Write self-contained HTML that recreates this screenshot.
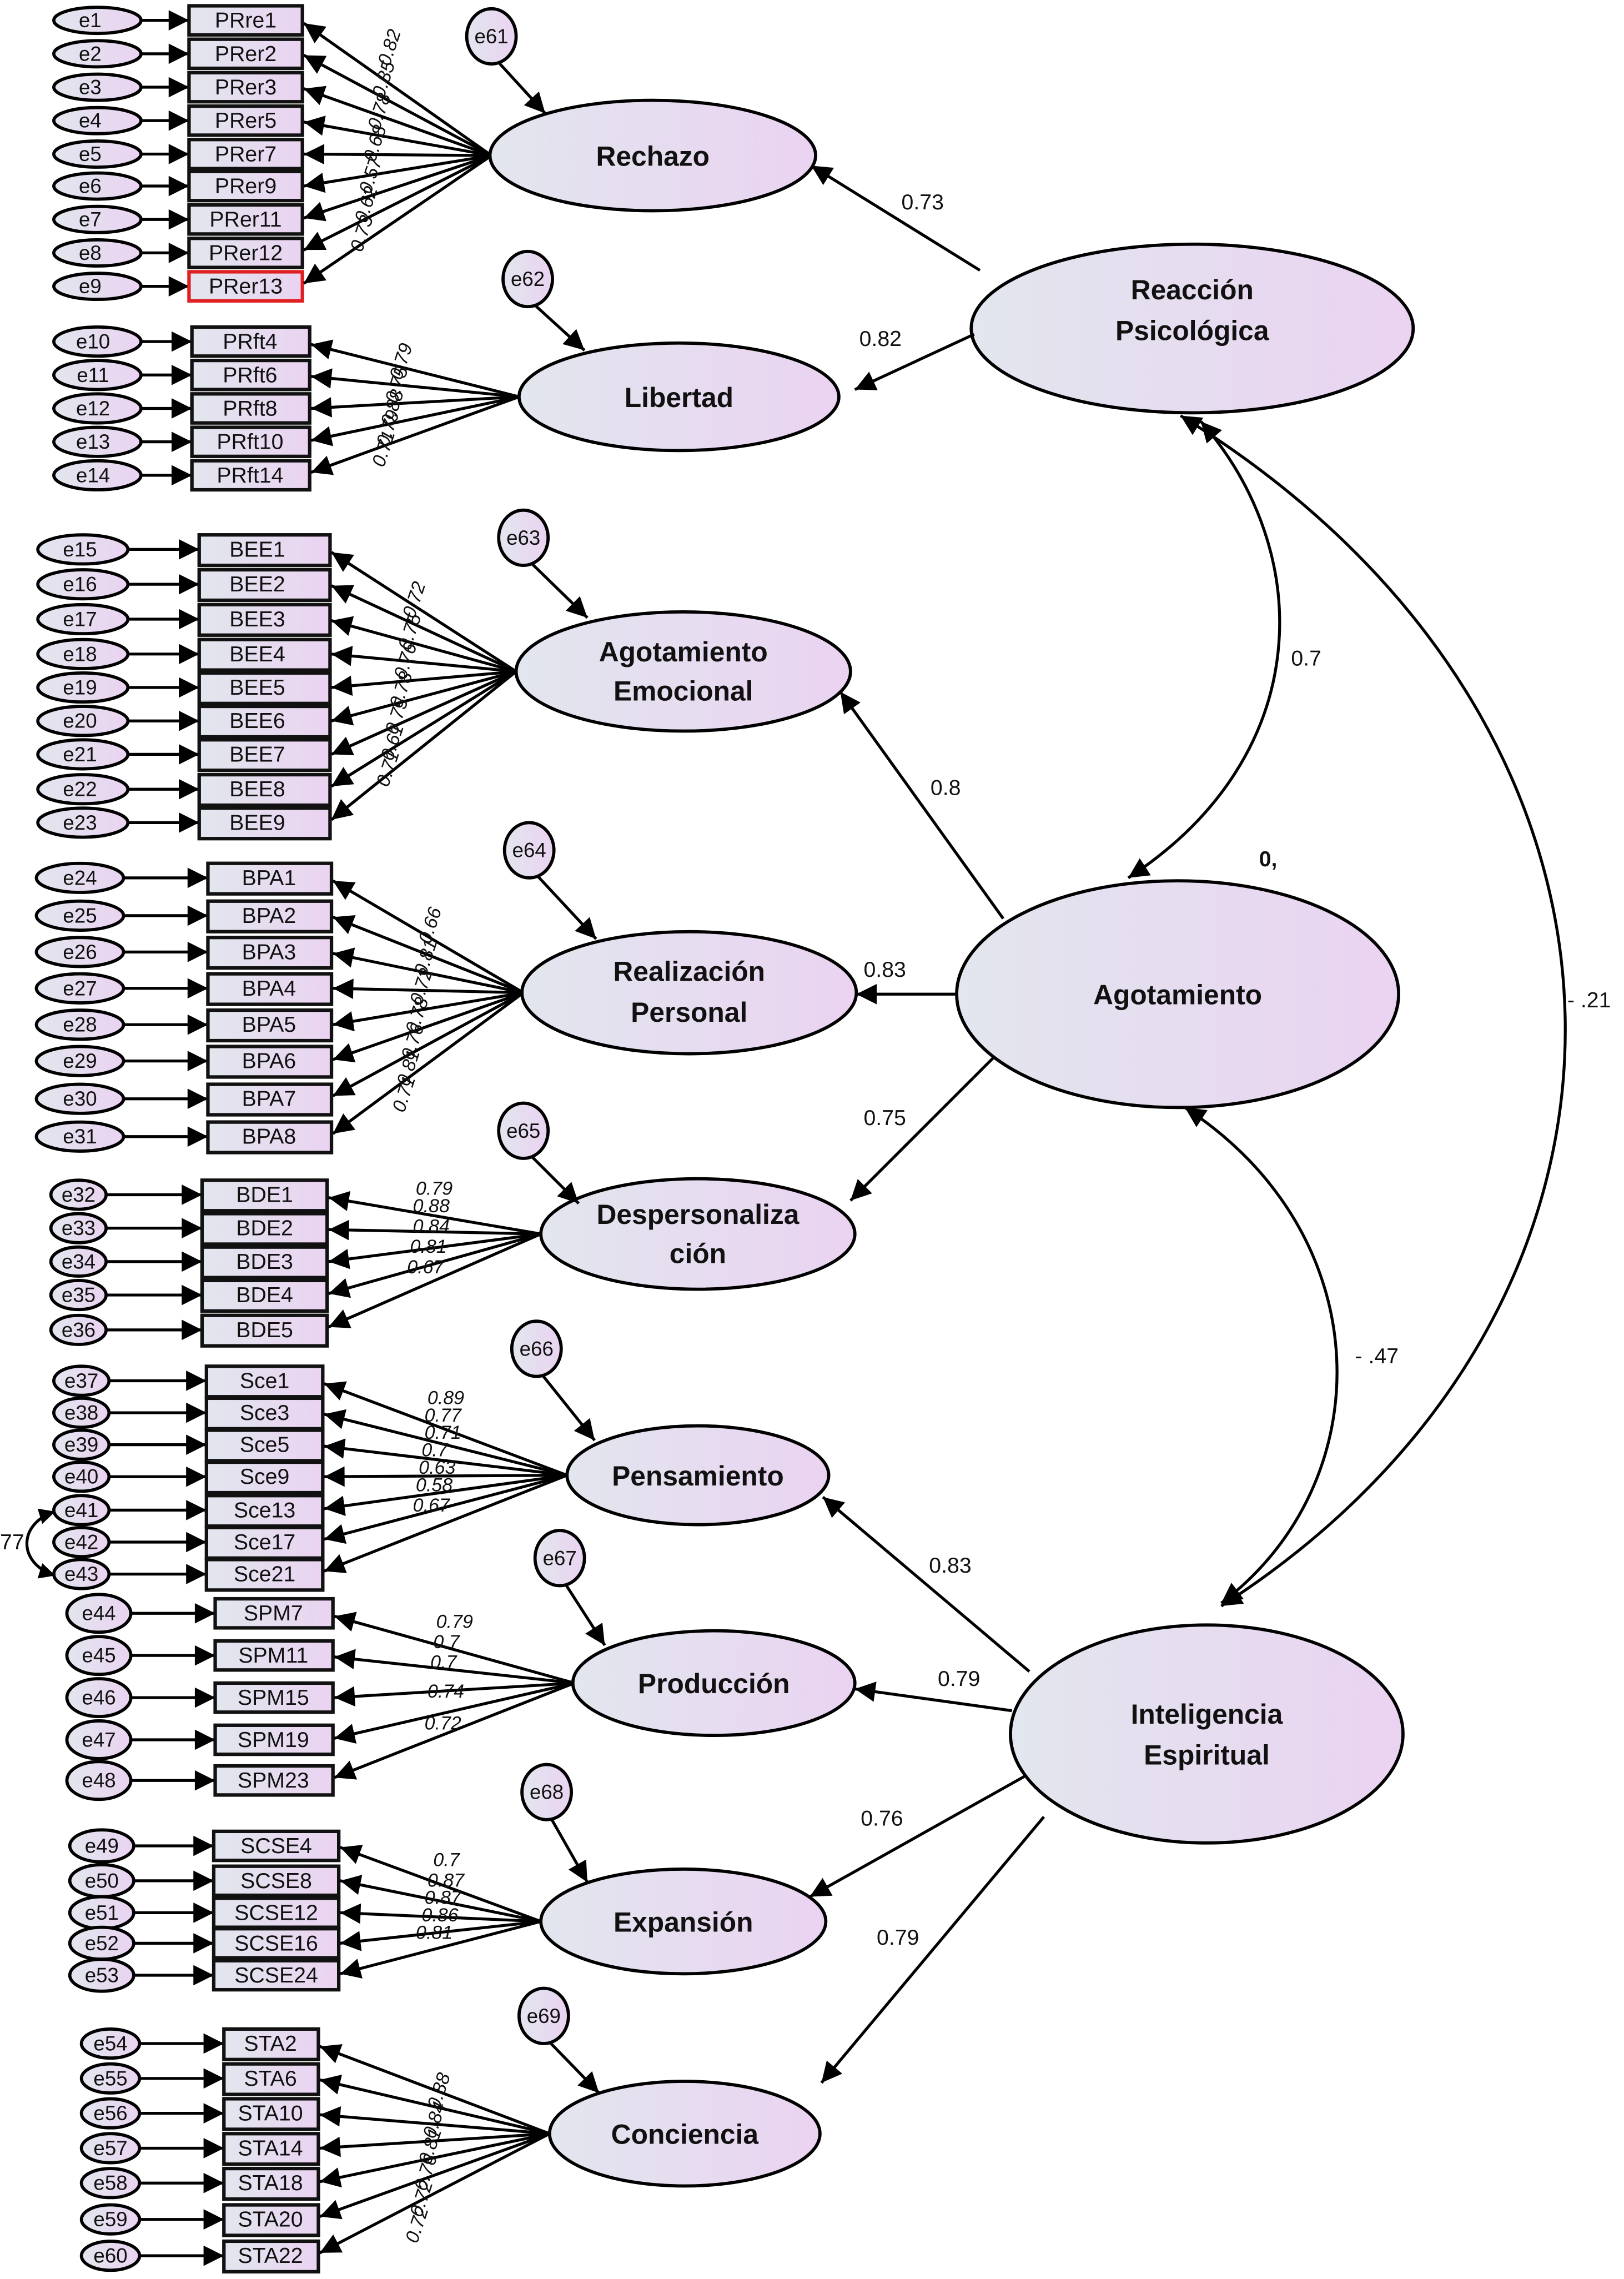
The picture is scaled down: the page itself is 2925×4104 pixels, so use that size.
<!DOCTYPE html>
<html><head><meta charset="utf-8"><style>
html,body{margin:0;padding:0;background:#fff;}
svg{display:block;}
text{font-family:"Liberation Sans",Arial,sans-serif;}
.e{fill:url(#g);stroke:#000;stroke-width:2.2;}
.b{fill:url(#g);stroke:#111;stroke-width:2.4;}
.l{stroke:#000;stroke-width:2;fill:none;}
.t{font-size:15px;text-anchor:middle;dominant-baseline:central;fill:#111;}
.et{font-size:14px;text-anchor:middle;dominant-baseline:central;fill:#111;}
.L{font-size:19px;font-weight:bold;text-anchor:middle;fill:#111;}
.n{font-size:15px;fill:#111;}
.r{font-size:13px;font-style:italic;fill:#111;}
</style></head><body>
<svg width="2925" height="4104" viewBox="0 0 1117 1568" preserveAspectRatio="none" xmlns="http://www.w3.org/2000/svg">
<defs>
<linearGradient id="g" x1="0" x2="1" y1="0" y2="0"><stop offset="0" stop-color="#e2e6ee"/><stop offset="1" stop-color="#ead3f1"/></linearGradient>
<marker id="a" viewBox="0 0 10 10" refX="10" refY="5" markerWidth="20" markerHeight="14" markerUnits="userSpaceOnUse" orient="auto-start-reverse"><path d="M0,0L10,5L0,10z" fill="#000"/></marker>
<marker id="s" viewBox="0 0 10 10" refX="10" refY="5" markerWidth="16" markerHeight="11" markerUnits="userSpaceOnUse" orient="auto-start-reverse"><path d="M0,0L10,5L0,10z" fill="#000"/></marker>
</defs>

<!-- ===== Rechazo ===== -->
<g>
<line class="l" x1="97" y1="14" x2="130" y2="14" marker-end="url(#a)"/><line class="l" x1="97" y1="37" x2="130" y2="37" marker-end="url(#a)"/><line class="l" x1="97" y1="60" x2="130" y2="60" marker-end="url(#a)"/><line class="l" x1="97" y1="83" x2="130" y2="83" marker-end="url(#a)"/><line class="l" x1="97" y1="106" x2="130" y2="106" marker-end="url(#a)"/><line class="l" x1="97" y1="128" x2="130" y2="128" marker-end="url(#a)"/><line class="l" x1="97" y1="151" x2="130" y2="151" marker-end="url(#a)"/><line class="l" x1="97" y1="174" x2="130" y2="174" marker-end="url(#a)"/><line class="l" x1="97" y1="197" x2="130" y2="197" marker-end="url(#a)"/>
<ellipse class="e" cx="67" cy="14" rx="30" ry="9"/><text class="et" x="62" y="14">e1</text>
<ellipse class="e" cx="67" cy="37" rx="30" ry="9"/><text class="et" x="62" y="37">e2</text>
<ellipse class="e" cx="67" cy="60" rx="30" ry="9"/><text class="et" x="62" y="60">e3</text>
<ellipse class="e" cx="67" cy="83" rx="30" ry="9"/><text class="et" x="62" y="83">e4</text>
<ellipse class="e" cx="67" cy="106" rx="30" ry="9"/><text class="et" x="62" y="106">e5</text>
<ellipse class="e" cx="67" cy="128" rx="30" ry="9"/><text class="et" x="62" y="128">e6</text>
<ellipse class="e" cx="67" cy="151" rx="30" ry="9"/><text class="et" x="62" y="151">e7</text>
<ellipse class="e" cx="67" cy="174" rx="30" ry="9"/><text class="et" x="62" y="174">e8</text>
<ellipse class="e" cx="67" cy="197" rx="30" ry="9"/><text class="et" x="62" y="197">e9</text>
<rect class="b" x="130" y="4" width="78" height="20"/><text class="t" x="169" y="14">PRre1</text>
<rect class="b" x="130" y="27" width="78" height="20"/><text class="t" x="169" y="37">PRer2</text>
<rect class="b" x="130" y="50" width="78" height="20"/><text class="t" x="169" y="60">PRer3</text>
<rect class="b" x="130" y="73" width="78" height="20"/><text class="t" x="169" y="83">PRer5</text>
<rect class="b" x="130" y="96" width="78" height="20"/><text class="t" x="169" y="106">PRer7</text>
<rect class="b" x="130" y="118" width="78" height="20"/><text class="t" x="169" y="128">PRer9</text>
<rect class="b" x="130" y="141" width="78" height="20"/><text class="t" x="169" y="151">PRer11</text>
<rect class="b" x="130" y="164" width="78" height="20"/><text class="t" x="169" y="174">PRer12</text>
<rect class="b" x="130" y="187" width="78" height="20" style="stroke:#e02020"/><text class="t" x="169" y="197">PRer13</text>
<line class="l" x1="338" y1="107" x2="209" y2="16" marker-end="url(#a)"/><line class="l" x1="338" y1="107" x2="209" y2="38" marker-end="url(#a)"/><line class="l" x1="338" y1="107" x2="209" y2="61" marker-end="url(#a)"/><line class="l" x1="338" y1="107" x2="209" y2="84" marker-end="url(#a)"/><line class="l" x1="338" y1="107" x2="209" y2="106" marker-end="url(#a)"/><line class="l" x1="338" y1="107" x2="209" y2="128" marker-end="url(#a)"/><line class="l" x1="338" y1="107" x2="209" y2="150" marker-end="url(#a)"/><line class="l" x1="338" y1="107" x2="209" y2="172" marker-end="url(#a)"/><line class="l" x1="338" y1="107" x2="209" y2="195" marker-end="url(#a)"/>
<text class="r" transform="translate(268,46) rotate(-72)">0.82</text>
<text class="r" transform="translate(264,68) rotate(-72)">0.85</text>
<text class="r" transform="translate(261,90) rotate(-72)">0.78</text>
<text class="r" transform="translate(258,112) rotate(-72)">0.68</text>
<text class="r" transform="translate(255,134) rotate(-72)">0.57</text>
<text class="r" transform="translate(252,154) rotate(-72)">0.62</text>
<text class="r" transform="translate(249,174) rotate(-72)">0.73</text>
<ellipse class="e" cx="449" cy="107" rx="112" ry="38"/><text class="L" x="449" y="114">Rechazo</text>
<ellipse class="e" cx="338" cy="25" rx="17" ry="19"/><text class="et" x="338" y="25">e61</text>
<line class="l" x1="343" y1="43" x2="375" y2="78" marker-end="url(#a)"/>
</g>

<!-- ===== Libertad ===== -->
<g>
<line class="l" x1="97" y1="235" x2="132" y2="235" marker-end="url(#a)"/><line class="l" x1="97" y1="258" x2="132" y2="258" marker-end="url(#a)"/><line class="l" x1="97" y1="281" x2="132" y2="281" marker-end="url(#a)"/><line class="l" x1="97" y1="304" x2="132" y2="304" marker-end="url(#a)"/><line class="l" x1="97" y1="327" x2="132" y2="327" marker-end="url(#a)"/>
<ellipse class="e" cx="67" cy="235" rx="30" ry="10"/><text class="et" x="64" y="235">e10</text>
<ellipse class="e" cx="67" cy="258" rx="30" ry="10"/><text class="et" x="64" y="258">e11</text>
<ellipse class="e" cx="67" cy="281" rx="30" ry="10"/><text class="et" x="64" y="281">e12</text>
<ellipse class="e" cx="67" cy="304" rx="30" ry="10"/><text class="et" x="64" y="304">e13</text>
<ellipse class="e" cx="67" cy="327" rx="30" ry="10"/><text class="et" x="64" y="327">e14</text>
<rect class="b" x="132" y="225" width="81" height="20"/><text class="t" x="172" y="235">PRft4</text>
<rect class="b" x="132" y="248" width="81" height="20"/><text class="t" x="172" y="258">PRft6</text>
<rect class="b" x="132" y="271" width="81" height="20"/><text class="t" x="172" y="281">PRft8</text>
<rect class="b" x="132" y="294" width="81" height="20"/><text class="t" x="172" y="304">PRft10</text>
<rect class="b" x="132" y="317" width="81" height="20"/><text class="t" x="172" y="327">PRft14</text>
<line class="l" x1="357" y1="273" x2="214" y2="237" marker-end="url(#a)"/><line class="l" x1="357" y1="273" x2="214" y2="259" marker-end="url(#a)"/><line class="l" x1="357" y1="273" x2="214" y2="281" marker-end="url(#a)"/><line class="l" x1="357" y1="273" x2="214" y2="303" marker-end="url(#a)"/><line class="l" x1="357" y1="273" x2="214" y2="325" marker-end="url(#a)"/>
<text class="r" transform="translate(276,262) rotate(-72)">0.79</text>
<text class="r" transform="translate(273,278) rotate(-72)">0.75</text>
<text class="r" transform="translate(270,294) rotate(-72)">0.88</text>
<text class="r" transform="translate(267,308) rotate(-72)">0.79</text>
<text class="r" transform="translate(264,322) rotate(-72)">0.71</text>
<ellipse class="e" cx="467" cy="273" rx="110" ry="37"/><text class="L" x="467" y="280">Libertad</text>
<ellipse class="e" cx="363" cy="192" rx="17" ry="19"/><text class="et" x="363" y="192">e62</text>
<line class="l" x1="368" y1="210" x2="402" y2="241" marker-end="url(#a)"/>
</g>

<!-- ===== Agotamiento Emocional ===== -->
<g>
<line class="l" x1="88" y1="378" x2="137" y2="378" marker-end="url(#a)"/><line class="l" x1="88" y1="402" x2="137" y2="402" marker-end="url(#a)"/><line class="l" x1="88" y1="426" x2="137" y2="426" marker-end="url(#a)"/><line class="l" x1="88" y1="450" x2="137" y2="450" marker-end="url(#a)"/><line class="l" x1="88" y1="473" x2="137" y2="473" marker-end="url(#a)"/><line class="l" x1="88" y1="496" x2="137" y2="496" marker-end="url(#a)"/><line class="l" x1="88" y1="519" x2="137" y2="519" marker-end="url(#a)"/><line class="l" x1="88" y1="543" x2="137" y2="543" marker-end="url(#a)"/><line class="l" x1="88" y1="566" x2="137" y2="566" marker-end="url(#a)"/>
<ellipse class="e" cx="57" cy="378" rx="31" ry="10"/><text class="et" x="55" y="378">e15</text>
<ellipse class="e" cx="57" cy="402" rx="31" ry="10"/><text class="et" x="55" y="402">e16</text>
<ellipse class="e" cx="57" cy="426" rx="31" ry="10"/><text class="et" x="55" y="426">e17</text>
<ellipse class="e" cx="57" cy="450" rx="31" ry="10"/><text class="et" x="55" y="450">e18</text>
<ellipse class="e" cx="57" cy="473" rx="31" ry="10"/><text class="et" x="55" y="473">e19</text>
<ellipse class="e" cx="57" cy="496" rx="31" ry="10"/><text class="et" x="55" y="496">e20</text>
<ellipse class="e" cx="57" cy="519" rx="31" ry="10"/><text class="et" x="55" y="519">e21</text>
<ellipse class="e" cx="57" cy="543" rx="31" ry="10"/><text class="et" x="55" y="543">e22</text>
<ellipse class="e" cx="57" cy="566" rx="31" ry="10"/><text class="et" x="55" y="566">e23</text>
<rect class="b" x="137" y="368" width="90" height="21"/><text class="t" x="177" y="378">BEE1</text>
<rect class="b" x="137" y="392" width="90" height="21"/><text class="t" x="177" y="402">BEE2</text>
<rect class="b" x="137" y="416" width="90" height="21"/><text class="t" x="177" y="426">BEE3</text>
<rect class="b" x="137" y="440" width="90" height="21"/><text class="t" x="177" y="450">BEE4</text>
<rect class="b" x="137" y="463" width="90" height="21"/><text class="t" x="177" y="473">BEE5</text>
<rect class="b" x="137" y="486" width="90" height="21"/><text class="t" x="177" y="496">BEE6</text>
<rect class="b" x="137" y="509" width="90" height="21"/><text class="t" x="177" y="519">BEE7</text>
<rect class="b" x="137" y="533" width="90" height="21"/><text class="t" x="177" y="543">BEE8</text>
<rect class="b" x="137" y="556" width="90" height="21"/><text class="t" x="177" y="566">BEE9</text>
<line class="l" x1="355" y1="462" x2="228" y2="380" marker-end="url(#a)"/><line class="l" x1="355" y1="462" x2="228" y2="403" marker-end="url(#a)"/><line class="l" x1="355" y1="462" x2="228" y2="427" marker-end="url(#a)"/><line class="l" x1="355" y1="462" x2="228" y2="450" marker-end="url(#a)"/><line class="l" x1="355" y1="462" x2="228" y2="473" marker-end="url(#a)"/><line class="l" x1="355" y1="462" x2="228" y2="496" marker-end="url(#a)"/><line class="l" x1="355" y1="462" x2="228" y2="519" marker-end="url(#a)"/><line class="l" x1="355" y1="462" x2="228" y2="541" marker-end="url(#a)"/><line class="l" x1="355" y1="462" x2="228" y2="564" marker-end="url(#a)"/>
<text class="r" transform="translate(285,426) rotate(-72)">0.72</text>
<text class="r" transform="translate(282,448) rotate(-72)">0.75</text>
<text class="r" transform="translate(279,468) rotate(-72)">0.76</text>
<text class="r" transform="translate(276,488) rotate(-72)">0.78</text>
<text class="r" transform="translate(273,506) rotate(-72)">0.75</text>
<text class="r" transform="translate(270,524) rotate(-72)">0.61</text>
<text class="r" transform="translate(267,542) rotate(-72)">0.71</text>
<ellipse class="e" cx="470" cy="462" rx="115" ry="41"/><text class="L" x="470" y="455">Agotamiento</text><text class="L" x="470" y="482">Emocional</text>
<ellipse class="e" cx="360" cy="370" rx="17" ry="19"/><text class="et" x="360" y="370">e63</text>
<line class="l" x1="366" y1="388" x2="404" y2="425" marker-end="url(#a)"/>
</g>

<!-- ===== Realización Personal ===== -->
<g>
<line class="l" x1="85" y1="604" x2="143" y2="604" marker-end="url(#a)"/><line class="l" x1="85" y1="630" x2="143" y2="630" marker-end="url(#a)"/><line class="l" x1="85" y1="655" x2="143" y2="655" marker-end="url(#a)"/><line class="l" x1="85" y1="680" x2="143" y2="680" marker-end="url(#a)"/><line class="l" x1="85" y1="705" x2="143" y2="705" marker-end="url(#a)"/><line class="l" x1="85" y1="730" x2="143" y2="730" marker-end="url(#a)"/><line class="l" x1="85" y1="756" x2="143" y2="756" marker-end="url(#a)"/><line class="l" x1="85" y1="782" x2="143" y2="782" marker-end="url(#a)"/>
<ellipse class="e" cx="55" cy="604" rx="30" ry="10"/><text class="et" x="55" y="604">e24</text>
<ellipse class="e" cx="55" cy="630" rx="30" ry="10"/><text class="et" x="55" y="630">e25</text>
<ellipse class="e" cx="55" cy="655" rx="30" ry="10"/><text class="et" x="55" y="655">e26</text>
<ellipse class="e" cx="55" cy="680" rx="30" ry="10"/><text class="et" x="55" y="680">e27</text>
<ellipse class="e" cx="55" cy="705" rx="30" ry="10"/><text class="et" x="55" y="705">e28</text>
<ellipse class="e" cx="55" cy="730" rx="30" ry="10"/><text class="et" x="55" y="730">e29</text>
<ellipse class="e" cx="55" cy="756" rx="30" ry="10"/><text class="et" x="55" y="756">e30</text>
<ellipse class="e" cx="55" cy="782" rx="30" ry="10"/><text class="et" x="55" y="782">e31</text>
<rect class="b" x="143" y="594" width="85" height="21"/><text class="t" x="185" y="604">BPA1</text>
<rect class="b" x="143" y="620" width="85" height="21"/><text class="t" x="185" y="630">BPA2</text>
<rect class="b" x="143" y="645" width="85" height="21"/><text class="t" x="185" y="655">BPA3</text>
<rect class="b" x="143" y="670" width="85" height="21"/><text class="t" x="185" y="680">BPA4</text>
<rect class="b" x="143" y="695" width="85" height="21"/><text class="t" x="185" y="705">BPA5</text>
<rect class="b" x="143" y="720" width="85" height="21"/><text class="t" x="185" y="730">BPA6</text>
<rect class="b" x="143" y="746" width="85" height="21"/><text class="t" x="185" y="756">BPA7</text>
<rect class="b" x="143" y="772" width="85" height="21"/><text class="t" x="185" y="782">BPA8</text>
<line class="l" x1="360" y1="683" x2="229" y2="606" marker-end="url(#a)"/><line class="l" x1="360" y1="683" x2="229" y2="631" marker-end="url(#a)"/><line class="l" x1="360" y1="683" x2="229" y2="656" marker-end="url(#a)"/><line class="l" x1="360" y1="683" x2="229" y2="680" marker-end="url(#a)"/><line class="l" x1="360" y1="683" x2="229" y2="705" marker-end="url(#a)"/><line class="l" x1="360" y1="683" x2="229" y2="729" marker-end="url(#a)"/><line class="l" x1="360" y1="683" x2="229" y2="754" marker-end="url(#a)"/><line class="l" x1="360" y1="683" x2="229" y2="780" marker-end="url(#a)"/>
<text class="r" transform="translate(296,650) rotate(-72)">0.66</text>
<text class="r" transform="translate(293,672) rotate(-72)">0.81</text>
<text class="r" transform="translate(290,692) rotate(-72)">0.72</text>
<text class="r" transform="translate(287,712) rotate(-72)">0.78</text>
<text class="r" transform="translate(284,730) rotate(-72)">0.76</text>
<text class="r" transform="translate(281,748) rotate(-72)">0.81</text>
<text class="r" transform="translate(278,766) rotate(-72)">0.71</text>
<ellipse class="e" cx="474" cy="683" rx="115" ry="42"/><text class="L" x="474" y="675">Realización</text><text class="L" x="474" y="703">Personal</text>
<ellipse class="e" cx="364" cy="585" rx="17" ry="19"/><text class="et" x="364" y="585">e64</text>
<line class="l" x1="370" y1="603" x2="410" y2="646" marker-end="url(#a)"/>
</g>

<!-- ===== Despersonalización ===== -->
<g>
<line class="l" x1="73" y1="822" x2="139" y2="822" marker-end="url(#a)"/><line class="l" x1="73" y1="845" x2="139" y2="845" marker-end="url(#a)"/><line class="l" x1="73" y1="868" x2="139" y2="868" marker-end="url(#a)"/><line class="l" x1="73" y1="891" x2="139" y2="891" marker-end="url(#a)"/><line class="l" x1="73" y1="915" x2="139" y2="915" marker-end="url(#a)"/>
<ellipse class="e" cx="54" cy="822" rx="19" ry="10"/><text class="et" x="54" y="822">e32</text>
<ellipse class="e" cx="54" cy="845" rx="19" ry="10"/><text class="et" x="54" y="845">e33</text>
<ellipse class="e" cx="54" cy="868" rx="19" ry="10"/><text class="et" x="54" y="868">e34</text>
<ellipse class="e" cx="54" cy="891" rx="19" ry="10"/><text class="et" x="54" y="891">e35</text>
<ellipse class="e" cx="54" cy="915" rx="19" ry="10"/><text class="et" x="54" y="915">e36</text>
<rect class="b" x="139" y="812" width="86" height="21"/><text class="t" x="182" y="822">BDE1</text>
<rect class="b" x="139" y="835" width="86" height="21"/><text class="t" x="182" y="845">BDE2</text>
<rect class="b" x="139" y="858" width="86" height="21"/><text class="t" x="182" y="868">BDE3</text>
<rect class="b" x="139" y="881" width="86" height="21"/><text class="t" x="182" y="891">BDE4</text>
<rect class="b" x="139" y="905" width="86" height="21"/><text class="t" x="182" y="915">BDE5</text>
<line class="l" x1="372" y1="849" x2="226" y2="824" marker-end="url(#a)"/><line class="l" x1="372" y1="849" x2="226" y2="846" marker-end="url(#a)"/><line class="l" x1="372" y1="849" x2="226" y2="868" marker-end="url(#a)"/><line class="l" x1="372" y1="849" x2="226" y2="890" marker-end="url(#a)"/><line class="l" x1="372" y1="849" x2="226" y2="913" marker-end="url(#a)"/>
<text class="r" x="286" y="822">0.79</text>
<text class="r" x="284" y="834">0.88</text>
<text class="r" x="284" y="848">0.84</text>
<text class="r" x="282" y="862">0.81</text>
<text class="r" x="280" y="876">0.67</text>
<ellipse class="e" cx="480" cy="849" rx="108" ry="38"/><text class="L" x="480" y="842">Despersonaliza</text><text class="L" x="480" y="869">ción</text>
<ellipse class="e" cx="360" cy="778" rx="17" ry="19"/><text class="et" x="360" y="778">e65</text>
<line class="l" x1="366" y1="796" x2="398" y2="828" marker-end="url(#a)"/>
</g>

<!-- ===== Pensamiento ===== -->
<g>
<line class="l" x1="74" y1="950" x2="142" y2="950" marker-end="url(#a)"/><line class="l" x1="74" y1="972" x2="142" y2="972" marker-end="url(#a)"/><line class="l" x1="74" y1="994" x2="142" y2="994" marker-end="url(#a)"/><line class="l" x1="74" y1="1016" x2="142" y2="1016" marker-end="url(#a)"/><line class="l" x1="74" y1="1039" x2="142" y2="1039" marker-end="url(#a)"/><line class="l" x1="74" y1="1061" x2="142" y2="1061" marker-end="url(#a)"/><line class="l" x1="74" y1="1083" x2="142" y2="1083" marker-end="url(#a)"/>
<ellipse class="e" cx="56" cy="950" rx="19" ry="10"/><text class="et" x="56" y="950">e37</text>
<ellipse class="e" cx="56" cy="972" rx="19" ry="10"/><text class="et" x="56" y="972">e38</text>
<ellipse class="e" cx="56" cy="994" rx="19" ry="10"/><text class="et" x="56" y="994">e39</text>
<ellipse class="e" cx="56" cy="1016" rx="19" ry="10"/><text class="et" x="56" y="1016">e40</text>
<ellipse class="e" cx="56" cy="1039" rx="19" ry="10"/><text class="et" x="56" y="1039">e41</text>
<ellipse class="e" cx="56" cy="1061" rx="19" ry="10"/><text class="et" x="56" y="1061">e42</text>
<ellipse class="e" cx="56" cy="1083" rx="19" ry="10"/><text class="et" x="56" y="1083">e43</text>
<path class="l" d="M38,1040 C12,1048 12,1076 38,1084" marker-start="url(#s)" marker-end="url(#s)"/>
<text class="n" x="0" y="1066">77</text>
<rect class="b" x="142" y="940" width="80" height="21"/><text class="t" x="182" y="950">Sce1</text>
<rect class="b" x="142" y="962" width="80" height="21"/><text class="t" x="182" y="972">Sce3</text>
<rect class="b" x="142" y="984" width="80" height="21"/><text class="t" x="182" y="994">Sce5</text>
<rect class="b" x="142" y="1006" width="80" height="21"/><text class="t" x="182" y="1016">Sce9</text>
<rect class="b" x="142" y="1029" width="80" height="21"/><text class="t" x="182" y="1039">Sce13</text>
<rect class="b" x="142" y="1051" width="80" height="21"/><text class="t" x="182" y="1061">Sce17</text>
<rect class="b" x="142" y="1073" width="80" height="21"/><text class="t" x="182" y="1083">Sce21</text>
<line class="l" x1="390" y1="1015" x2="223" y2="952" marker-end="url(#a)"/><line class="l" x1="390" y1="1015" x2="223" y2="973" marker-end="url(#a)"/><line class="l" x1="390" y1="1015" x2="223" y2="995" marker-end="url(#a)"/><line class="l" x1="390" y1="1015" x2="223" y2="1016" marker-end="url(#a)"/><line class="l" x1="390" y1="1015" x2="223" y2="1038" marker-end="url(#a)"/><line class="l" x1="390" y1="1015" x2="223" y2="1059" marker-end="url(#a)"/><line class="l" x1="390" y1="1015" x2="223" y2="1081" marker-end="url(#a)"/>
<text class="r" x="294" y="966">0.89</text>
<text class="r" x="292" y="978">0.77</text>
<text class="r" x="292" y="990">0.71</text>
<text class="r" x="290" y="1002">0.7</text>
<text class="r" x="288" y="1014">0.63</text>
<text class="r" x="286" y="1026">0.58</text>
<text class="r" x="284" y="1040">0.67</text>
<ellipse class="e" cx="480" cy="1015" rx="90" ry="34"/><text class="L" x="480" y="1022">Pensamiento</text>
<ellipse class="e" cx="369" cy="928" rx="17" ry="19"/><text class="et" x="369" y="928">e66</text>
<line class="l" x1="373" y1="946" x2="409" y2="991" marker-end="url(#a)"/>
</g>

<!-- ===== Producción ===== -->
<g>
<line class="l" x1="90" y1="1110" x2="148" y2="1110" marker-end="url(#a)"/><line class="l" x1="90" y1="1139" x2="148" y2="1139" marker-end="url(#a)"/><line class="l" x1="90" y1="1168" x2="148" y2="1168" marker-end="url(#a)"/><line class="l" x1="90" y1="1197" x2="148" y2="1197" marker-end="url(#a)"/><line class="l" x1="90" y1="1225" x2="148" y2="1225" marker-end="url(#a)"/>
<ellipse class="e" cx="68" cy="1110" rx="22" ry="13"/><text class="et" x="68" y="1110">e44</text>
<ellipse class="e" cx="68" cy="1139" rx="22" ry="13"/><text class="et" x="68" y="1139">e45</text>
<ellipse class="e" cx="68" cy="1168" rx="22" ry="13"/><text class="et" x="68" y="1168">e46</text>
<ellipse class="e" cx="68" cy="1197" rx="22" ry="13"/><text class="et" x="68" y="1197">e47</text>
<ellipse class="e" cx="68" cy="1225" rx="22" ry="13"/><text class="et" x="68" y="1225">e48</text>
<rect class="b" x="148" y="1100" width="81" height="20"/><text class="t" x="188" y="1110">SPM7</text>
<rect class="b" x="148" y="1129" width="81" height="20"/><text class="t" x="188" y="1139">SPM11</text>
<rect class="b" x="148" y="1158" width="81" height="20"/><text class="t" x="188" y="1168">SPM15</text>
<rect class="b" x="148" y="1187" width="81" height="20"/><text class="t" x="188" y="1197">SPM19</text>
<rect class="b" x="148" y="1215" width="81" height="20"/><text class="t" x="188" y="1225">SPM23</text>
<line class="l" x1="395" y1="1158" x2="230" y2="1112" marker-end="url(#a)"/><line class="l" x1="395" y1="1158" x2="230" y2="1140" marker-end="url(#a)"/><line class="l" x1="395" y1="1158" x2="230" y2="1168" marker-end="url(#a)"/><line class="l" x1="395" y1="1158" x2="230" y2="1196" marker-end="url(#a)"/><line class="l" x1="395" y1="1158" x2="230" y2="1223" marker-end="url(#a)"/>
<text class="r" x="300" y="1120">0.79</text>
<text class="r" x="298" y="1134">0.7</text>
<text class="r" x="296" y="1148">0.7</text>
<text class="r" x="294" y="1168">0.74</text>
<text class="r" x="292" y="1190">0.72</text>
<ellipse class="e" cx="491" cy="1158" rx="97" ry="36"/><text class="L" x="491" y="1165">Producción</text>
<ellipse class="e" cx="385" cy="1072" rx="17" ry="19"/><text class="et" x="385" y="1072">e67</text>
<line class="l" x1="389" y1="1090" x2="416" y2="1132" marker-end="url(#a)"/>
</g>

<!-- ===== Expansión ===== -->
<g>
<line class="l" x1="92" y1="1270" x2="147" y2="1270" marker-end="url(#a)"/><line class="l" x1="92" y1="1294" x2="147" y2="1294" marker-end="url(#a)"/><line class="l" x1="92" y1="1316" x2="147" y2="1316" marker-end="url(#a)"/><line class="l" x1="92" y1="1337" x2="147" y2="1337" marker-end="url(#a)"/><line class="l" x1="92" y1="1359" x2="147" y2="1359" marker-end="url(#a)"/>
<ellipse class="e" cx="70" cy="1270" rx="22" ry="11"/><text class="et" x="70" y="1270">e49</text>
<ellipse class="e" cx="70" cy="1294" rx="22" ry="11"/><text class="et" x="70" y="1294">e50</text>
<ellipse class="e" cx="70" cy="1316" rx="22" ry="11"/><text class="et" x="70" y="1316">e51</text>
<ellipse class="e" cx="70" cy="1337" rx="22" ry="11"/><text class="et" x="70" y="1337">e52</text>
<ellipse class="e" cx="70" cy="1359" rx="22" ry="11"/><text class="et" x="70" y="1359">e53</text>
<rect class="b" x="147" y="1260" width="86" height="20"/><text class="t" x="190" y="1270">SCSE4</text>
<rect class="b" x="147" y="1284" width="86" height="20"/><text class="t" x="190" y="1294">SCSE8</text>
<rect class="b" x="147" y="1306" width="86" height="20"/><text class="t" x="190" y="1316">SCSE12</text>
<rect class="b" x="147" y="1327" width="86" height="20"/><text class="t" x="190" y="1337">SCSE16</text>
<rect class="b" x="147" y="1349" width="86" height="20"/><text class="t" x="190" y="1359">SCSE24</text>
<line class="l" x1="372" y1="1322" x2="234" y2="1271" marker-end="url(#a)"/><line class="l" x1="372" y1="1322" x2="234" y2="1294" marker-end="url(#a)"/><line class="l" x1="372" y1="1322" x2="234" y2="1316" marker-end="url(#a)"/><line class="l" x1="372" y1="1322" x2="234" y2="1337" marker-end="url(#a)"/><line class="l" x1="372" y1="1322" x2="234" y2="1358" marker-end="url(#a)"/>
<text class="r" x="298" y="1284">0.7</text>
<text class="r" x="294" y="1298">0.87</text>
<text class="r" x="292" y="1310">0.87</text>
<text class="r" x="290" y="1322">0.86</text>
<text class="r" x="286" y="1334">0.81</text>
<ellipse class="e" cx="470" cy="1322" rx="98" ry="36"/><text class="L" x="470" y="1329">Expansión</text>
<ellipse class="e" cx="376" cy="1233" rx="17" ry="19"/><text class="et" x="376" y="1233">e68</text>
<line class="l" x1="379" y1="1251" x2="404" y2="1295" marker-end="url(#a)"/>
</g>

<!-- ===== Conciencia ===== -->
<g>
<line class="l" x1="96" y1="1406" x2="154" y2="1406" marker-end="url(#a)"/><line class="l" x1="96" y1="1430" x2="154" y2="1430" marker-end="url(#a)"/><line class="l" x1="96" y1="1454" x2="154" y2="1454" marker-end="url(#a)"/><line class="l" x1="96" y1="1478" x2="154" y2="1478" marker-end="url(#a)"/><line class="l" x1="96" y1="1502" x2="154" y2="1502" marker-end="url(#a)"/><line class="l" x1="96" y1="1527" x2="154" y2="1527" marker-end="url(#a)"/><line class="l" x1="96" y1="1552" x2="154" y2="1552" marker-end="url(#a)"/>
<ellipse class="e" cx="76" cy="1406" rx="20" ry="10"/><text class="et" x="76" y="1406">e54</text>
<ellipse class="e" cx="76" cy="1430" rx="20" ry="10"/><text class="et" x="76" y="1430">e55</text>
<ellipse class="e" cx="76" cy="1454" rx="20" ry="10"/><text class="et" x="76" y="1454">e56</text>
<ellipse class="e" cx="76" cy="1478" rx="20" ry="10"/><text class="et" x="76" y="1478">e57</text>
<ellipse class="e" cx="76" cy="1502" rx="20" ry="10"/><text class="et" x="76" y="1502">e58</text>
<ellipse class="e" cx="76" cy="1527" rx="20" ry="10"/><text class="et" x="76" y="1527">e59</text>
<ellipse class="e" cx="76" cy="1552" rx="20" ry="10"/><text class="et" x="76" y="1552">e60</text>
<rect class="b" x="154" y="1396" width="65" height="21"/><text class="t" x="186" y="1406">STA2</text>
<rect class="b" x="154" y="1420" width="65" height="21"/><text class="t" x="186" y="1430">STA6</text>
<rect class="b" x="154" y="1444" width="65" height="21"/><text class="t" x="186" y="1454">STA10</text>
<rect class="b" x="154" y="1468" width="65" height="21"/><text class="t" x="186" y="1478">STA14</text>
<rect class="b" x="154" y="1492" width="65" height="21"/><text class="t" x="186" y="1502">STA18</text>
<rect class="b" x="154" y="1517" width="65" height="21"/><text class="t" x="186" y="1527">STA20</text>
<rect class="b" x="154" y="1542" width="65" height="21"/><text class="t" x="186" y="1552">STA22</text>
<line class="l" x1="378" y1="1468" x2="220" y2="1408" marker-end="url(#a)"/><line class="l" x1="378" y1="1468" x2="220" y2="1431" marker-end="url(#a)"/><line class="l" x1="378" y1="1468" x2="220" y2="1455" marker-end="url(#a)"/><line class="l" x1="378" y1="1468" x2="220" y2="1478" marker-end="url(#a)"/><line class="l" x1="378" y1="1468" x2="220" y2="1501" marker-end="url(#a)"/><line class="l" x1="378" y1="1468" x2="220" y2="1525" marker-end="url(#a)"/><line class="l" x1="378" y1="1468" x2="220" y2="1550" marker-end="url(#a)"/>
<text class="r" transform="translate(302,1452) rotate(-72)">0.88</text>
<text class="r" transform="translate(299,1472) rotate(-72)">0.84</text>
<text class="r" transform="translate(296,1490) rotate(-72)">0.81</text>
<text class="r" transform="translate(293,1508) rotate(-72)">0.76</text>
<text class="r" transform="translate(290,1526) rotate(-72)">0.72</text>
<text class="r" transform="translate(287,1544) rotate(-72)">0.72</text>
<ellipse class="e" cx="471" cy="1468" rx="93" ry="36"/><text class="L" x="471" y="1475">Conciencia</text>
<ellipse class="e" cx="374" cy="1387" rx="17" ry="19"/><text class="et" x="374" y="1387">e69</text>
<line class="l" x1="378" y1="1405" x2="412" y2="1440" marker-end="url(#a)"/>
</g>

<!-- ===== Second-order ===== -->
<path class="l" d="M826,290 C905,380 905,520 776,604" marker-start="url(#a)" marker-end="url(#a)"/>
<path class="l" d="M812,286 C1160,500 1160,900 840,1105" marker-start="url(#a)" marker-end="url(#a)"/>
<path class="l" d="M815,762 C950,850 950,1020 840,1103" marker-start="url(#a)" marker-end="url(#a)"/>

<ellipse class="e" cx="820" cy="226" rx="152" ry="58"/><text class="L" x="820" y="206">Reacción</text><text class="L" x="820" y="234">Psicológica</text>
<ellipse class="e" cx="810" cy="684" rx="152" ry="78"/><text class="L" x="810" y="691">Agotamiento</text>
<ellipse class="e" cx="830" cy="1193" rx="135" ry="75"/><text class="L" x="830" y="1186">Inteligencia</text><text class="L" x="830" y="1214">Espiritual</text>

<line class="l" x1="674" y1="186" x2="558" y2="114" marker-end="url(#a)"/>
<line class="l" x1="670" y1="230" x2="588" y2="268" marker-end="url(#a)"/>
<line class="l" x1="690" y1="632" x2="578" y2="476" marker-end="url(#a)"/>
<line class="l" x1="658" y1="684" x2="589" y2="684" marker-end="url(#a)"/>
<line class="l" x1="683" y1="728" x2="585" y2="826" marker-end="url(#a)"/>
<line class="l" x1="708" y1="1150" x2="566" y2="1030" marker-end="url(#a)"/>
<line class="l" x1="696" y1="1177" x2="588" y2="1162" marker-end="url(#a)"/>
<line class="l" x1="705" y1="1222" x2="557" y2="1305" marker-end="url(#a)"/>
<line class="l" x1="718" y1="1250" x2="565" y2="1433" marker-end="url(#a)"/>

<text class="n" x="620" y="144">0.73</text>
<text class="n" x="591" y="238">0.82</text>
<text class="n" x="640" y="547">0.8</text>
<text class="n" x="594" y="672">0.83</text>
<text class="n" x="594" y="774">0.75</text>
<text class="n" x="639" y="1082">0.83</text>
<text class="n" x="645" y="1160">0.79</text>
<text class="n" x="592" y="1256">0.76</text>
<text class="n" x="603" y="1338">0.79</text>
<text class="n" x="888" y="458">0.7</text>
<text class="n" x="866" y="596" style="font-weight:bold">0,</text>
<text class="n" x="932" y="938">- .47</text>
<text class="n" x="1078" y="693">- .21</text>
</svg>
</body></html>
